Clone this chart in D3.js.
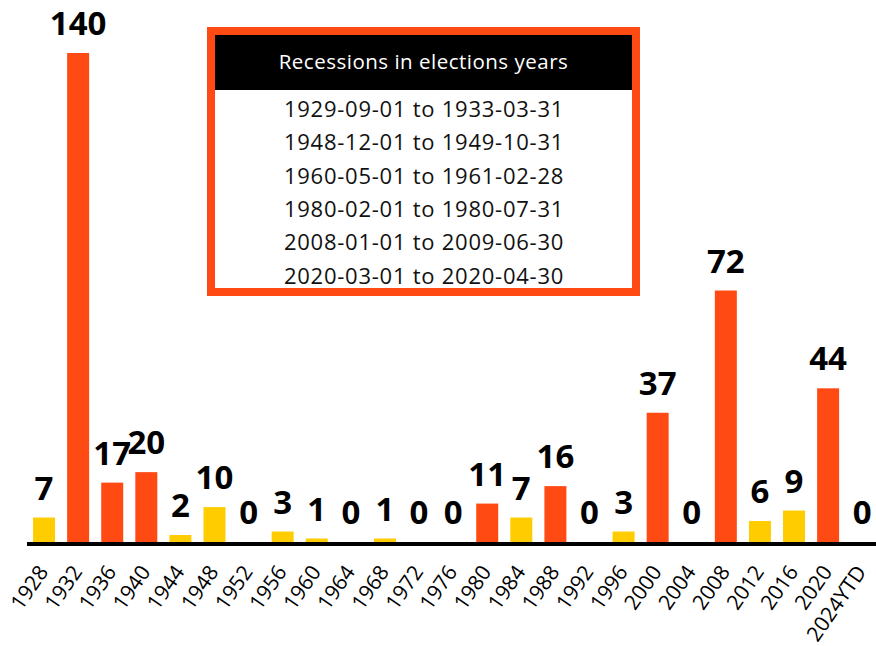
<!DOCTYPE html>
<html>
<head>
<meta charset="utf-8">
<script src="https://cdn.jsdelivr.net/npm/d3@7"></script>
<style>
  html, body { margin: 0; padding: 0; background: #fff; }
  svg { display: block; }
</style>
</head>
<body>
<svg id="chart" width="876" height="646"></svg>
<script>
// ---- Data ----
const categories = ["1928","1932","1936","1940","1944","1948","1952","1956","1960","1964","1968","1972","1976","1980","1984","1988","1992","1996","2000","2004","2008","2012","2016","2020","2024YTD"];
const values = [7,140,17,20,2,10,0,3,1,0,1,0,0,11,7,16,0,3,37,0,72,6,9,44,0];
const highlighted = [false,true,true,true,false,false,false,false,false,false,false,false,false,true,false,true,false,false,true,false,true,false,false,true,false];
const tableTitle = "Recessions in elections years";
const recessionPeriods = [
  "1929-09-01 to 1933-03-31",
  "1948-12-01 to 1949-10-31",
  "1960-05-01 to 1961-02-28",
  "1980-02-01 to 1980-07-31",
  "2008-01-01 to 2009-06-30",
  "2020-03-01 to 2020-04-30"
];

// ---- Styles ----
const ORANGE = "#ff4a14";
const YELLOW = "#ffcc00";
const FONT = "'Open Sans', 'Noto Sans', sans-serif";

const svg = d3.select("#chart");

const baseY = 542;
const step = 34.09;
const x = d3.scaleBand()
  .domain(categories)
  .range([27, 27 + step * categories.length])
  .paddingInner(0.355)
  .paddingOuter(0.1775);
const y = d3.scaleLinear().domain([0, 140]).range([baseY, 53]);

const data = categories.map((c, i) => ({ c, v: values[i], h: highlighted[i] }));

// Bars
svg.append("g").selectAll("rect")
  .data(data)
  .join("rect")
  .attr("x", d => x(d.c))
  .attr("width", x.bandwidth())
  .attr("y", d => y(d.v))
  .attr("height", d => baseY - y(d.v))
  .attr("fill", d => d.h ? ORANGE : YELLOW);

// Axis baseline
svg.append("line")
  .attr("x1", 27).attr("x2", 876)
  .attr("y1", baseY + 2).attr("y2", baseY + 2)
  .attr("stroke", "#000").attr("stroke-width", 4);

// Tick labels
svg.append("g").selectAll("text")
  .data(data)
  .join("text")
  .attr("transform", d => `translate(${x(d.c) + x.bandwidth() / 2 + 5},${baseY + 30}) rotate(-55)`)
  .attr("text-anchor", "end")
  .attr("font-family", FONT)
  .attr("font-size", 21)
  .attr("fill", "#000")
  .text(d => d.c);

// Value labels
svg.append("g").selectAll("text")
  .data(data)
  .join("text")
  .attr("x", d => x(d.c) + x.bandwidth() / 2)
  .attr("y", d => y(d.v) - 18)
  .attr("text-anchor", "middle")
  .attr("font-family", FONT)
  .attr("font-weight", 700)
  .attr("font-size", 33)
  .attr("fill", "#000")
  .text(d => d.v);

// Table box
const box = svg.append("g");
box.append("rect")
  .attr("x", 211).attr("y", 31)
  .attr("width", 425).attr("height", 261)
  .attr("fill", "#fff")
  .attr("stroke", ORANGE).attr("stroke-width", 8);
box.append("rect")
  .attr("x", 215).attr("y", 35)
  .attr("width", 417).attr("height", 55)
  .attr("fill", "#000");
box.append("text")
  .attr("x", 423.5).attr("y", 62)
  .attr("dy", "0.35em")
  .attr("text-anchor", "middle")
  .attr("font-family", FONT)
  .attr("font-size", 20.5)
  .attr("letter-spacing", 0.5)
  .attr("fill", "#fff")
  .text(tableTitle);
box.append("g").selectAll("text")
  .data(recessionPeriods)
  .join("text")
  .attr("x", 424)
  .attr("y", (d, i) => 116.7 + i * 33.4)
  .attr("text-anchor", "middle")
  .attr("font-family", FONT)
  .attr("font-size", 22)
  .attr("letter-spacing", 0.75)
  .attr("fill", "#111")
  .text(d => d);
</script>
</body>
</html>
